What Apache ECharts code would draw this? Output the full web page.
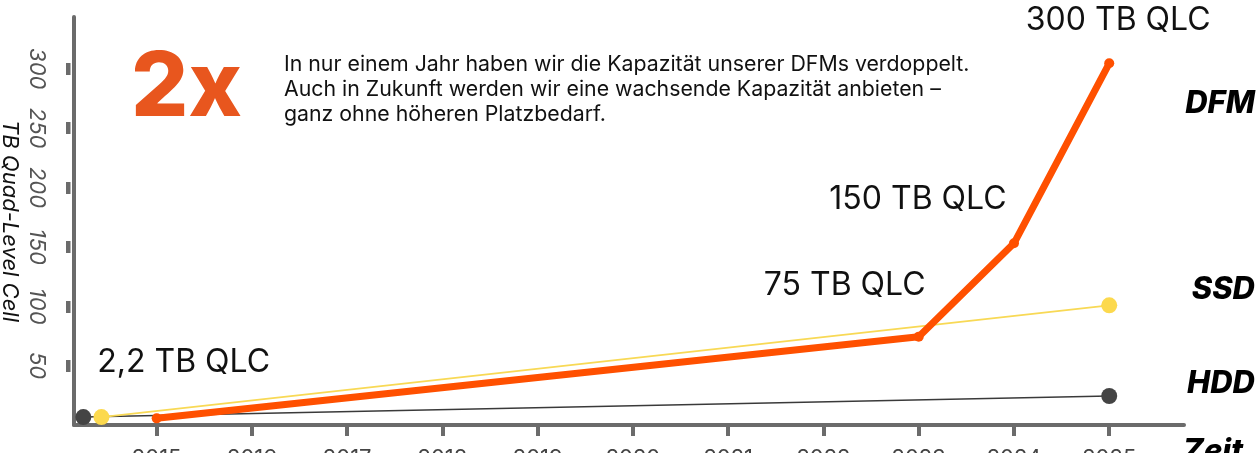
<!DOCTYPE html>
<html>
<head>
<meta charset="utf-8">
<script src="https://cdn.jsdelivr.net/npm/echarts@6/dist/echarts.min.js"></script>
<style>
  html, body { margin: 0; padding: 0; background: #fff; }
  #main { width: 1257px; height: 453px; }
</style>
</head>
<body>
<div id="main"></div>
<script>
// Jahre / Werte
var yearTicks = [2015, 2016, 2017, 2018, 2019, 2020, 2021, 2022, 2023, 2024, 2025];
var yTicks = [50, 100, 150, 200, 250, 300];

var dfmYears = [2015, 2023, 2024, 2025];
var dfmValues = [5.6, 74.4, 153, 304.6];
var dfmLabels = ['2,2 TB QLC', '75 TB QLC', '150 TB QLC', '300 TB QLC'];

var ssdYears = [2014.42, 2025];
var ssdValues = [6.7, 100.8];

var hddYears = [2014.23, 2025];
var hddValues = [6.7, 24.4];

var labelOffsets = [[27, -56], [-74, -51], [-96, -44], [9, -43]];

var axisGray = '#6b6b6b';
var font = 'Inter, "Noto Sans", sans-serif';

function pairs(xs, ys) {
  return xs.map(function (x, i) { return [x, ys[i]]; });
}

var chart = echarts.init(document.getElementById('main'));

var option = {
  animation: false,
  grid: { left: 74, right: 73, top: 17, bottom: 28, outerBoundsMode: 'none', containLabel: false },
  xAxis: {
    type: 'value',
    min: 2014.132,
    max: 2025.785,
    splitLine: { show: false },
    axisLine: { lineStyle: { color: axisGray, width: 4 } },
    axisTick: { customValues: yearTicks, length: 11, lineStyle: { color: axisGray, width: 4 } },
    axisLabel: {
      customValues: yearTicks,
      margin: 22,
      color: '#444',
      fontSize: 22,
      fontFamily: font,
      formatter: function (v) { return String(v); }
    }
  },
  yAxis: [
    {
      type: 'value',
      min: 0,
      max: 343.6,
      splitLine: { show: false },
      axisLine: { show: true, lineStyle: { color: axisGray, width: 4 } },
      axisTick: { show: false },
      axisLabel: { show: false }
    },
    {
      type: 'value',
      position: 'left',
      offset: 3.5,
      min: 0,
      max: 343.6,
      splitLine: { show: false },
      axisLine: { show: false },
      axisTick: { show: true, customValues: yTicks, length: 4.5, lineStyle: { color: axisGray, width: 12 } },
      axisLabel: {
        customValues: yTicks,
        rotate: -90,
        margin: 23,
        color: '#555',
        fontSize: 22,
        fontStyle: 'italic',
        fontFamily: font
      },
      name: 'TB Quad-Level Cell',
      nameLocation: 'middle',
      nameRotate: -90,
      nameGap: 50,
      nameMoveOverlap: false,
      nameTextStyle: { color: '#111', fontSize: 22, fontStyle: 'italic', fontFamily: font }
    }
  ],
  series: [
    {
      name: 'HDD',
      type: 'line',
      data: pairs(hddYears, hddValues),
      symbol: 'circle',
      symbolSize: 16,
      itemStyle: { color: '#444' },
      lineStyle: { color: '#3a3a3a', width: 1.5 },
      z: 2
    },
    {
      name: 'SSD',
      type: 'line',
      data: pairs(ssdYears, ssdValues),
      symbol: 'circle',
      symbolSize: 16,
      itemStyle: { color: '#fcd94e' },
      lineStyle: { color: '#f8d955', width: 1.8 },
      z: 3
    },
    {
      name: 'DFM',
      type: 'line',
      data: dfmYears.map(function (y, i) {
        return {
          value: [y, dfmValues[i]],
          label: { offset: labelOffsets[i] }
        };
      }),
      symbol: 'circle',
      symbolSize: 10,
      itemStyle: { color: '#ff5000' },
      lineStyle: { color: '#ff5000', width: 7, cap: 'round', join: 'round' },
      label: {
        show: true,
        position: 'inside',
        color: '#111',
        fontSize: 32,
        fontFamily: font,
        formatter: function (p) { return dfmLabels[p.dataIndex]; }
      },
      z: 4
    }
  ],
  graphic: [
    {
      type: 'text', left: 131, top: 44,
      style: { text: '2x', font: '800 90px Inter, sans-serif', fill: '#e8561e' }
    },
    {
      type: 'text', left: 284, top: 52,
      style: {
        text: 'In nur einem Jahr haben wir die Kapazität unserer DFMs verdoppelt.\nAuch in Zukunft werden wir eine wachsende Kapazität anbieten –\nganz ohne höheren Platzbedarf.',
        font: '21.3px Inter, sans-serif', lineHeight: 25, fill: '#111'
      }
    },
    { type: 'text', right: 2, top: 88, style: { text: 'DFM', font: 'italic 800 31px Inter, sans-serif', fill: '#000' } },
    { type: 'text', right: 2, top: 274, style: { text: 'SSD', font: 'italic 800 31px Inter, sans-serif', fill: '#000' } },
    { type: 'text', right: 2, top: 368, style: { text: 'HDD', font: 'italic 800 31px Inter, sans-serif', fill: '#000' } },
    { type: 'text', right: 14, top: 436, style: { text: 'Zeit', font: 'italic 800 31px Inter, sans-serif', fill: '#000' } }
  ]
};

chart.setOption(option);
</script>
</body>
</html>
